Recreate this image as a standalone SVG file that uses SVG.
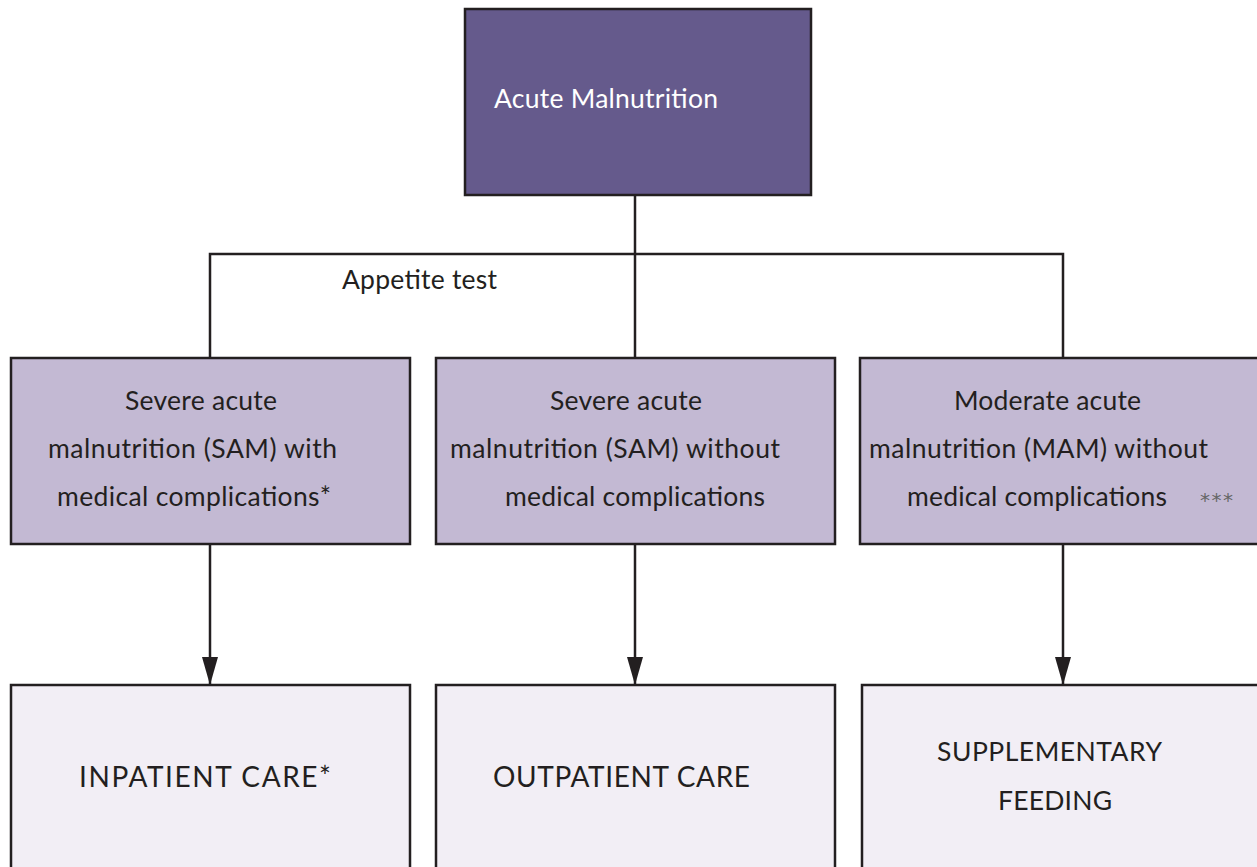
<svg xmlns="http://www.w3.org/2000/svg" width="1257" height="867" viewBox="0 0 1257 867">
<style>
.box{stroke:#231f20;stroke-width:2.5}
.top{fill:#655a8c}
.mid{fill:#c3b9d3}
.low{fill:#f2eef5}
.t{font-family:Lato,"Open Sans",sans-serif;font-size:26.5px;fill:#231f20}
.u{font-size:28px}
.w{fill:#ffffff}
.c{fill:none;stroke:#231f20;stroke-width:2.5}
</style>
<defs>
<marker id="arr" viewBox="0 0 28 16" refX="28" refY="8" markerWidth="28" markerHeight="16" markerUnits="userSpaceOnUse" orient="auto">
<path d="M0,0 L28,8 L0,16 Z" fill="#231f20"/>
</marker>
</defs>
<g id="connectors">
<path class="c" d="M635,195 V358"/>
<path class="c" d="M210,358 V254 H1063 V358"/>
<path class="c" d="M210,544 V685" marker-end="url(#arr)"/>
<path class="c" d="M635,544 V685" marker-end="url(#arr)"/>
<path class="c" d="M1063,544 V685" marker-end="url(#arr)"/>
</g>
<g id="acute">
<rect class="box top" x="465" y="9" width="346" height="186"/>
<text class="t w" x="494" y="108" textLength="224">Acute Malnutrition</text>
</g>
<g id="appetite">
<text class="t" x="342" y="289" textLength="155">Appetite test</text>
</g>
<g id="sam-with">
<rect class="box mid" x="11" y="358" width="399" height="186"/>
<text class="t" x="125" y="410" textLength="152">Severe acute</text>
<text class="t" x="48" y="458" textLength="289">malnutrition (SAM) with</text>
<text class="t" x="57" y="506" textLength="274">medical complications*</text>
</g>
<g id="sam-without">
<rect class="box mid" x="436" y="358" width="399" height="186"/>
<text class="t" x="550" y="410" textLength="152">Severe acute</text>
<text class="t" x="450" y="458" textLength="330">malnutrition (SAM) without</text>
<text class="t" x="505" y="506" textLength="260">medical complications</text>
</g>
<g id="mam">
<rect class="box mid" x="860" y="358" width="410" height="186"/>
<text class="t" x="954" y="410" textLength="187">Moderate acute</text>
<text class="t" x="869" y="458" textLength="339">malnutrition (MAM) without</text>
<text class="t" x="907" y="506" textLength="260">medical complications</text>
<text x="1200" y="507" font-family="'DejaVu Sans',sans-serif" font-size="20" fill="#666" textLength="33">***</text>
</g>
<g id="inpatient">
<rect class="box low" x="11" y="685" width="399" height="200"/>
<text class="t u" x="79" y="787" textLength="252">INPATIENT CARE*</text>
</g>
<g id="outpatient">
<rect class="box low" x="436" y="685" width="399" height="200"/>
<text class="t u" x="493" y="787" textLength="257">OUTPATIENT CARE</text>
</g>
<g id="supplementary">
<rect class="box low" x="862" y="685" width="410" height="200"/>
<text class="t" x="937" y="761" textLength="225">SUPPLEMENTARY</text>
<text class="t" x="998" y="810" textLength="114">FEEDING</text>
</g>
</svg>
